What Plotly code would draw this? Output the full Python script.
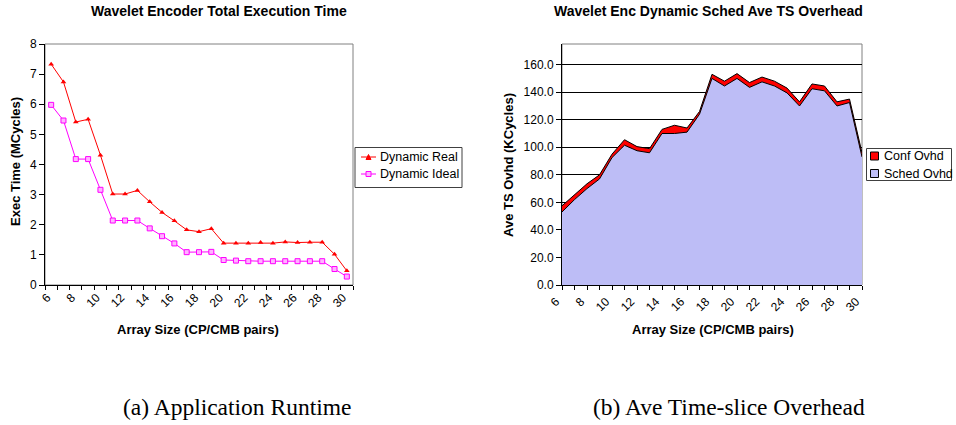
import plotly.graph_objects as go

# ---------------- data ----------------
array_size = list(range(6, 31))
tick_labels = [str(v) if v % 2 == 0 else "" for v in array_size]

dynamic_real = [7.33, 6.74, 5.41, 5.50, 4.31, 3.02, 3.02, 3.14, 2.76, 2.41, 2.13, 1.83, 1.77,
                1.87, 1.39, 1.39, 1.39, 1.41, 1.39, 1.43, 1.41, 1.42, 1.42, 1.02, 0.47]
dynamic_ideal = [5.98, 5.46, 4.18, 4.18, 3.16, 2.14, 2.14, 2.14, 1.88, 1.62, 1.38, 1.09, 1.09,
                 1.10, 0.83, 0.81, 0.79, 0.79, 0.79, 0.79, 0.79, 0.79, 0.79, 0.53, 0.28]

sched_ovhd = [53, 62, 70, 77, 92.5, 101.5, 97.5, 96, 110, 110, 111, 124, 150,
              144.5, 150, 143.5, 147.5, 144.5, 139.5, 130, 142.5, 141, 130, 132.5, 93]
conf_ovhd = [4.5, 3.5, 3.5, 3, 2.5, 4, 3, 3, 3, 6, 3, 2, 3,
             3.5, 3.5, 3.5, 3.5, 3.5, 3.5, 3, 3.5, 3.5, 3, 2.5, 3]

W, H = 956, 425
FONT = "Liberation Sans, Arial, sans-serif"
SERIF = "Liberation Serif, Times New Roman, serif"

RED = "#ff0000"
MAGENTA = "#ff00ff"
SCHED_FILL = "#bdbdf6"


def px(x):
    return x / W


def py(y):
    return 1 - y / H


fig = go.Figure()

# ---------------- left chart ----------------
fig.add_trace(go.Scatter(
    x=array_size, y=dynamic_real, name="Dynamic Real", mode="lines+markers",
    line=dict(color=RED, width=1),
    marker=dict(symbol="triangle-up", size=5, color=RED),
    xaxis="x", yaxis="y", showlegend=False))
fig.add_trace(go.Scatter(
    x=array_size, y=dynamic_ideal, name="Dynamic Ideal", mode="lines+markers",
    line=dict(color=MAGENTA, width=1),
    marker=dict(symbol="square", size=5, color="#ffb3ff", line=dict(color=MAGENTA, width=1)),
    xaxis="x", yaxis="y", showlegend=False))

# ---------------- right chart ----------------
fig.add_trace(go.Scatter(
    x=array_size, y=sched_ovhd, name="Sched Ovhd", mode="lines",
    stackgroup="one", line=dict(color="#000000", width=1),
    fillcolor=SCHED_FILL, xaxis="x2", yaxis="y2", showlegend=False))
fig.add_trace(go.Scatter(
    x=array_size, y=conf_ovhd, name="Conf Ovhd", mode="lines",
    stackgroup="one", line=dict(color="#000000", width=1),
    fillcolor=RED, xaxis="x2", yaxis="y2", showlegend=False))

tickfont = dict(family=FONT, size=12, color="#000000")

fig.update_layout(
    width=W, height=H,
    margin=dict(l=0, r=0, t=0, b=0),
    paper_bgcolor="white", plot_bgcolor="white",
    font=dict(family=FONT, size=12, color="#000000"),
    showlegend=False,
    xaxis=dict(
        domain=[px(45), px(353)], anchor="y", range=[5.5, 30.5], automargin=False,
        tickmode="array", tickvals=array_size, ticktext=tick_labels,
        tickangle=-45, ticks="", tickfont=tickfont, ticklabelshift=-4,
        minor=dict(tick0=5.5, dtick=1, ticks="outside", ticklen=4, tickcolor="#000000"),
        showline=True, linecolor="#000000", linewidth=1,
        showgrid=False, zeroline=False),
    yaxis=dict(
        domain=[py(285), py(44)], anchor="x", range=[0, 8], dtick=1, automargin=False,
        ticks="outside", ticklen=5, tickcolor="#000000", tickfont=tickfont,
        showline=True, linecolor="#000000", linewidth=1,
        showgrid=False, zeroline=False),
    xaxis2=dict(
        domain=[px(562), px(862)], anchor="y2", range=[6, 30], automargin=False,
        tickmode="array", tickvals=array_size, ticktext=tick_labels,
        tickangle=-45, ticks="outside", ticklen=4, tickcolor="#000000", tickfont=tickfont,
        ticklabelshift=-6,
        showline=True, linecolor="#000000", linewidth=1,
        showgrid=False, zeroline=False),
    yaxis2=dict(
        domain=[py(285), py(44)], anchor="x2", range=[0, 175], automargin=False,
        tickmode="array", tickvals=[0, 20, 40, 60, 80, 100, 120, 140, 160],
        tickformat=".1f",
        ticks="outside", ticklen=5, tickcolor="#000000", tickfont=tickfont,
        showline=True, linecolor="#000000", linewidth=1,
        showgrid=True, gridcolor="#000000", gridwidth=1, zeroline=False),
)

# plot area borders (grey), drawn below axis lines
for xr, yr in (("x domain", "y domain"), ("x2 domain", "y2 domain")):
    fig.add_shape(type="rect", xref=xr, yref=yr, x0=0, x1=1, y0=0, y1=1,
                  line=dict(color="#808080", width=1), layer="below")


def text(t, x, y, size, family=FONT, angle=0, xanchor="center"):
    fig.add_annotation(text=t, x=px(x), y=py(y), xref="paper", yref="paper",
                       xanchor=xanchor, yanchor="middle", showarrow=False, textangle=angle,
                       font=dict(family=family, size=size, color="#000000"))


# titles
text("<b>Wavelet Encoder Total Execution Time</b>", 218.5, 11, 14)
text("<b>Wavelet Enc Dynamic Sched Ave TS Overhead</b>", 708, 11, 14)
# axis titles
text("<b>Array Size (CP/CMB pairs)</b>", 198, 329.5, 13)
text("<b>Array Size (CP/CMB pairs)</b>", 713, 329.5, 13)
text("<b>Exec Time (MCycles)</b>", 15.5, 161.5, 13, angle=-90)
text("<b>Ave TS Ovhd (KCycles)</b>", 509, 165, 13, angle=-90)
# captions
text("(a) Application Runtime", 237, 407, 23.5, family=SERIF)
text("(b) Ave Time-slice Overhead", 729, 407, 23.5, family=SERIF)


# ---------------- legends (drawn as shapes + text) ----------------
def rect(x0, y0, x1, y1, line, fill, width=1):
    fig.add_shape(type="rect", xref="paper", yref="paper",
                  x0=px(x0), x1=px(x1), y0=py(y0), y1=py(y1),
                  line=dict(color=line, width=width), fillcolor=fill, layer="above")


def seg(x0, y0, x1, y1, color):
    fig.add_shape(type="line", xref="paper", yref="paper",
                  x0=px(x0), x1=px(x1), y0=py(y0), y1=py(y1),
                  line=dict(color=color, width=1), layer="above")


# left legend
rect(355, 147.5, 462, 187.5, "#404040", "white")
seg(361, 157, 376, 157, RED)
fig.add_shape(type="path", xref="paper", yref="paper", layer="above",
              path=f"M {px(366)} {py(159.5)} L {px(371)} {py(159.5)} L {px(368.5)} {py(154.5)} Z",
              line=dict(color=RED, width=1), fillcolor=RED)
text("Dynamic Real", 378, 157, 12.5, xanchor="left")
seg(361, 174, 376, 174, MAGENTA)
rect(366, 171.5, 371, 176.5, MAGENTA, "#ffb3ff")
text("Dynamic Ideal", 378, 174, 12.5, xanchor="left")

# right legend
rect(866.5, 148.5, 951.5, 180.5, "#404040", "white")
rect(870.5, 152, 878.5, 160, "#000000", RED)
text("Conf Ovhd", 881.5, 156, 12.5, xanchor="left")
rect(870.5, 169.5, 878.5, 177.5, "#000000", SCHED_FILL)
text("Sched Ovhd", 881.5, 173.5, 12.5, xanchor="left")

fig.write_html("out.html")
